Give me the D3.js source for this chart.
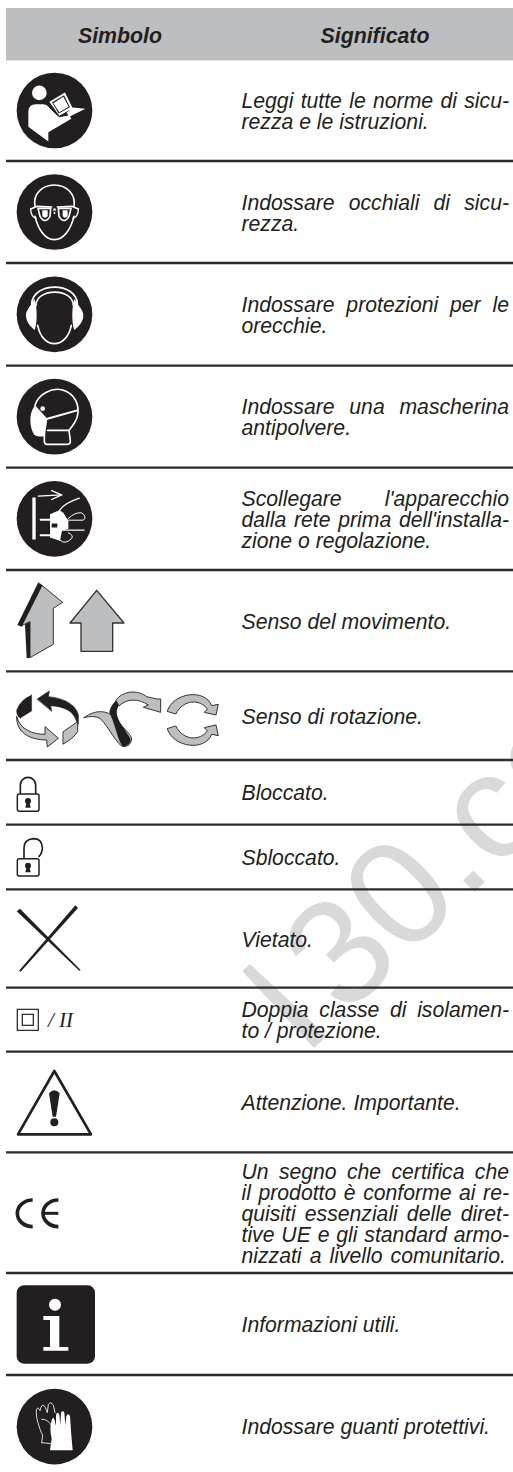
<!DOCTYPE html>
<html><head><meta charset="utf-8">
<script src="https://cdn.jsdelivr.net/npm/d3@7/dist/d3.min.js"></script>
<style>html,body{margin:0;padding:0;background:#fff}svg{display:block}</style>
</head><body><div id="c"></div>
<script>
const headers = ["Simbolo", "Significato"];
const meanings = [
  ["Leggi tutte le norme di sicu-", "rezza e le istruzioni."],
  ["Indossare occhiali di sicu-", "rezza."],
  ["Indossare protezioni per le", "orecchie."],
  ["Indossare una mascherina", "antipolvere."],
  ["Scollegare l'apparecchio", "dalla rete prima dell'installa-", "zione o regolazione."],
  ["Senso del movimento."],
  ["Senso di rotazione."],
  ["Bloccato."],
  ["Sbloccato."],
  ["Vietato."],
  ["Doppia classe di isolamen-", "to / protezione."],
  ["Attenzione. Importante."],
  ["Un segno che certifica che", "il prodotto è conforme ai re-", "quisiti essenziali delle diret-", "tive UE e gli standard armo-", "nizzati a livello comunitario."],
  ["Informazioni utili."],
  ["Indossare guanti protettivi."]
];
const watermark = "30.co";
const rowIndex = d3.range(meanings.length);
const rowEdges = [60,161,263,365.7,467.7,570,671.3,760,824.7,889.3,987.7,1051.7,1152.3,1273,1375,1477];

const W = 513, H = 1472;
const INK = "#231f20", GREY = "#bcbec0", WM = "#d9d9da";
const rowTop = d3.scaleOrdinal().domain(rowIndex).range(rowEdges.slice(0,-1));
const rowBot = d3.scaleOrdinal().domain(rowIndex).range(rowEdges.slice(1));
const rowMid = i => (rowTop(i) + rowBot(i)) / 2;
const FS = 21.2, LH = 21, TX = 241.5, TR = 509;

const svg = d3.select("#c").append("svg").attr("width", W).attr("height", H).attr("viewBox", `0 0 ${W} ${H}`);
svg.append("rect").attr("width", W).attr("height", H).attr("fill", "#fff");

// watermark
svg.append("path").attr("d","M243 970L250 964L327 1036L314 1048L243 972Z").attr("fill",WM);
svg.append("text")
  .attr("transform","translate(344.4,1017.5) rotate(-44)")
  .attr("font-family","'Liberation Sans',Arial,sans-serif").attr("font-size",150).attr("fill",WM)
  .text(watermark);

// header band
svg.append("rect").attr("x",6).attr("y",8).attr("width",W-6).attr("height",52.5).attr("fill",GREY);
svg.selectAll("text.h").data(headers).join("text").attr("class","h")
  .attr("x",(d,i)=>[120,375][i]).attr("y",42.5).attr("text-anchor","middle")
  .attr("font-family","'Liberation Sans',Arial,sans-serif").attr("font-size",21.3)
  .attr("font-weight","bold").attr("font-style","italic").attr("fill",INK).text(d=>d);

// rules
svg.selectAll("line.r").data(rowIndex.slice(0,-1)).join("line").attr("class","r")
  .attr("x1",6).attr("x2",W).attr("y1",i=>rowBot(i)).attr("y2",i=>rowBot(i))
  .attr("stroke","#2c2a2b").attr("stroke-width",2.3);

// text rows
const rows = svg.selectAll("g.row").data(rowIndex).join("g").attr("class","row");
rows.each(function(i){
  const ls = meanings[i], n = ls.length;
  const tt = d3.select(this).selectAll("text").data(ls).join("text")
    .attr("x",TX).attr("y",(d,k)=>rowMid(i)+8+(k-(n-1)/2)*LH)
    .attr("font-family","'Liberation Sans',Arial,sans-serif").attr("font-size",FS)
    .attr("font-style","italic").attr("fill",INK).text(d=>d);
  tt.each(function(d,k){
    const justify = (n===2||n===3||n===5) && k<n-1;
    const spaces = (d.match(/ /g)||[]).length;
    if(justify && spaces){
      const len = this.getComputedTextLength();
      d3.select(this).attr("word-spacing",(TR-TX-len)/spaces);
    } else if(n===5 && spaces){
      const len = this.getComputedTextLength();
      d3.select(this).attr("word-spacing",Math.max(0,(TR-3-TX-len)/spaces));
    }
  });
});

// pictograms : drawn in 3x units around a reference centre
function icon(i, ox, cy){
  return svg.append("g").attr("transform",`translate(${ox},${rowMid(i)}) scale(${1/3}) translate(0,${-cy})`);
}
const P=(g,d,fill,stroke,w)=>g.append("path").attr("d",d).attr("fill",fill||"none").attr("stroke",stroke||"none").attr("stroke-width",w||0).attr("stroke-linejoin","round").attr("stroke-linecap","round");
const C=(g,x,y,r,fill)=>g.append("circle").attr("cx",x).attr("cy",y).attr("r",r).attr("fill",fill);
const BK="#231f20", WH="#fff";

// 0 reader
{const g=icon(0,0,331);C(g,163.5,331,113.5,BK);C(g,118,278,22,WH);
 P(g,"M85 336Q85 312 108 312L130 312Q140 312 146 320L178 351L208 345L214 356L145 396L145 424L85 380Z",WH);
 P(g,"M148 305L195 277L218 324L178 347Z",WH);
 P(g,"M156 307L192 285L210 321L176 340Z",BK);P(g,"M160 309L190 290L206 320L178 336Z",WH);
 P(g,"M218 322L256 326L208 350L200 338Z",WH);
 P(g,"M146 320L172 345",BK,BK,3);}
// 1 goggles
{const g=icon(1,0,637);C(g,163.5,637,113.5,BK);
 P(g,"M105 620C98 585 125 556 163 556C201 556 228 585 222 620",null,WH,5);
 P(g,"M105 650C115 690 135 720 163 720C191 720 212 690 222 650",null,WH,5);
 P(g,"M92 628L112 620L155 622",null,WH,5);P(g,"M235 628L215 620L172 622",null,WH,5);
 P(g,"M92 628C92 645 100 655 108 655",null,WH,4);P(g,"M235 628C235 645 227 655 219 655",null,WH,4);
 P(g,"M114 626L152 626L150 650Q135 675 120 650Z",null,WH,5);P(g,"M175 626L213 626L207 650Q192 675 177 650Z",null,WH,5);
 P(g,"M127 632L127 650Q135 658 143 650L143 632",WH,null,0);P(g,"M188 632L188 650Q195 658 203 650L203 632",WH,null,0);
 C(g,163.5,630,4,WH);C(g,163.5,640,3,WH);}
// 2 ear muffs
{const g=icon(2,0,72);C(g,163.5,72,113.5,BK);
 P(g,"M95 40C100 -26 228 -26 232 40",null,WH,5);
 P(g,"M108 45C110 -8 218 -8 220 45",null,WH,5);
 P(g,"M104 26C92 45 78 60 78 75C78 95 92 110 104 119C112 100 112 50 104 26Z",WH);
 P(g,"M223 26C235 45 250 60 250 75C250 95 235 110 223 119C215 100 215 50 223 26Z",WH);
 P(g,"M113 105C120 140 140 160 163 160C186 160 207 140 214 105",null,WH,5);}
// 3 mask
{const g=icon(3,0,379);C(g,163.5,379,113.5,BK);
 P(g,"M105 345C115 310 155 292 185 298C225 308 240 345 232 378C228 395 215 410 207 420L211 452Q212 462 200 462L142 462Q133 462 133 452L133 430",null,WH,5);
 P(g,"M105 345C90 365 86 395 98 425C105 442 120 440 135 436L142 385Z",WH);
 P(g,"M142 385L232 360",null,WH,6);P(g,"M143 420L207 420",null,WH,5);
 C(g,128,355,7,WH);}
// 4 unplug
{const g=icon(4,0,686);C(g,163.5,686,113.5,BK);
 g.append("rect").attr("x",97).attr("y",622).attr("width",10).attr("height",126).attr("fill",WH);
 P(g,"M115 618L185 614",null,WH,4);P(g,"M155 601L185 614L155 628",null,WH,4);
 P(g,"M122 689L150 689M122 735L150 735",null,WH,6);
 P(g,"M198 690L250 690Q262 680 245 668Q225 665 205 685",null,WH,3);
 P(g,"M178 662Q190 640 238 624",null,WH,4);
 P(g,"M150 672L178 660L190 668L205 692L205 716L186 722L180 752L150 742Z",WH);
 P(g,"M155 700L172 700L172 712L155 712Z",BK);
 P(g,"M186 720L252 720",null,WH,4);
 P(g,"M180 750Q195 765 215 745Q222 735 205 728",null,WH,3);}
// 5 arrows
{const g=icon(5,10,137);
 P(g,"M92 28L158 82L130 100L130 208L60 248L60 140L35 152Z",GREY,"#333",3);
 P(g,"M85 22L97 32L35 155L22 150Z",BK);
 P(g,"M45 148L60 140L60 248L50 250Z",BK);
 P(g,"M260 46L342 144L308 144L308 229L213 229L213 144L180 144Z",GREY,"#333",4);}
// 6 rotations
{const g=icon(6,10,422);
 P(g,"M65 360L65 408L30 430Q18 420 20 405Q30 375 65 360Z",BK,BK,1);
 P(g,"M82 372L118 348L115 365C170 370 200 395 205 420L205 448L200 440C190 405 160 395 122 392L125 408Z",BK,BK,2);
 P(g,"M20 425C30 465 70 478 105 478L105 455L145 490L112 516L110 495C70 495 18 480 20 425Z",GREY,"#333",3);
 P(g,"M160 470L203 440L203 470Q190 490 160 507Z",GREY,"#333",3);
 P(g,"M222 428C260 400 300 405 325 440C345 465 365 480 365 492Q362 515 340 515C320 510 300 460 270 430Q250 420 222 428Z",GREY,"#333",3);
 P(g,"M298 412C300 395 315 375 330 368L325 395C315 410 320 430 345 465L362 492Q362 510 340 515C325 505 320 460 298 412Z",BK);
 P(g,"M318 375C340 345 385 345 410 365L440 372L452 372L452 412L400 397L415 390C385 370 350 370 328 392Z",GREY,"#333",3);
 P(g,"M472 408C490 352 585 340 605 392L625 388L618 420L583 412L592 402C570 372 520 372 498 416Z",GREY,"#333",3);
 P(g,"M472 462C490 518 585 530 605 478L625 482L618 450L583 458L592 468C570 498 520 498 498 454Z",GREY,"#333",3);}
// 7, 8 locks
function lock(i,cy,open){const g=icon(i,0,cy);const top=cy+5;
 if(open)P(g,`M72 ${cy+4}L72 ${cy-26}Q72 ${cy-53} 100 ${cy-55}Q126 ${cy-55} 127 ${cy-28}Q127 ${cy-12} 117 ${cy-2}`,null,BK,5);
 else P(g,`M61 ${top}L61 ${top-27}A23 23 0 0 1 107 ${top-27}L107 ${top}`,null,BK,5);
 g.append("rect").attr("x",52).attr("y",top).attr("width",65).attr("height",52).attr("rx",6).attr("fill",WH).attr("stroke",BK).attr("stroke-width",4.5);
 C(g,84,top+21,9,BK);P(g,`M80 ${top+24}L88 ${top+24}L92 ${top+41}L76 ${top+41}Z`,BK);}
lock(7,607,false);lock(8,801,true);
// 9 X
{const g=icon(9,0,145.5);
 P(g,"M50 64L60 56L242 240L238 242Z",BK);
 P(g,"M226 46L234 54L62 245L57 242Z",BK);}
// 10 double insulation
{const g=icon(10,0,389);
 g.append("rect").attr("x",52).attr("y",358).attr("width",63).attr("height",63).attr("fill",WH).attr("stroke","#333").attr("stroke-width",4);
 g.append("rect").attr("x",67).attr("y",373).attr("width",33).attr("height",33).attr("fill",WH).attr("stroke","#333").attr("stroke-width",4);
 g.append("text").attr("x",144).attr("y",412).attr("font-family","'Liberation Serif',serif").attr("font-style","italic").attr("font-size",63).attr("fill",BK).text("/ II");}
// 11 warning
{const g=icon(11,0,636);
 P(g,"M163 543L273 733L54 733Z",WH,BK,8);
 P(g,"M147 610Q163 592 179 610L168 680L158 680Z",BK);C(g,163,697,12,BK);}
// 12 CE
{const g=icon(12,0,122);
 P(g,"M98 84A46 40 0 0 0 98 164",null,BK,11).attr("stroke-linecap","butt");
 P(g,"M175 84A46 40 0 0 0 175 164",null,BK,11).attr("stroke-linecap","butt");
 P(g,"M130 124L175 124",null,BK,9).attr("stroke-linecap","butt");}
// 13 info
{const g=icon(13,0,456);
 g.append("rect").attr("x",50).attr("y",340).attr("width",235).attr("height",235).attr("rx",22).attr("fill",BK);
 C(g,165,398,18,WH);
 P(g,"M130 432L178 432L178 525L205 525L205 536L130 536L130 525L150 525L150 444L130 444Z",WH);}
// 14 gloves
{const g=icon(14,0,762);C(g,163.5,764,113.5,BK);
 P(g,"M125 812L128 790C118 770 105 730 110 712Q114 702 120 716L122 708Q128 692 136 706L142 722L145 698Q152 686 160 700L165 722",null,WH,2.5);
 P(g,"M125 812L155 815",null,WH,2.5);
 P(g,"M150 835L155 800C150 780 150 760 155 745Q160 730 164 745L168 762L168 728Q173 716 178 728L181 760L183 722Q188 712 193 722L196 760L199 732Q204 722 210 732L214 790L218 835Z",WH);
 P(g,"M125 742C140 740 155 755 158 770",null,WH,2.5);}
</script></body></html>
